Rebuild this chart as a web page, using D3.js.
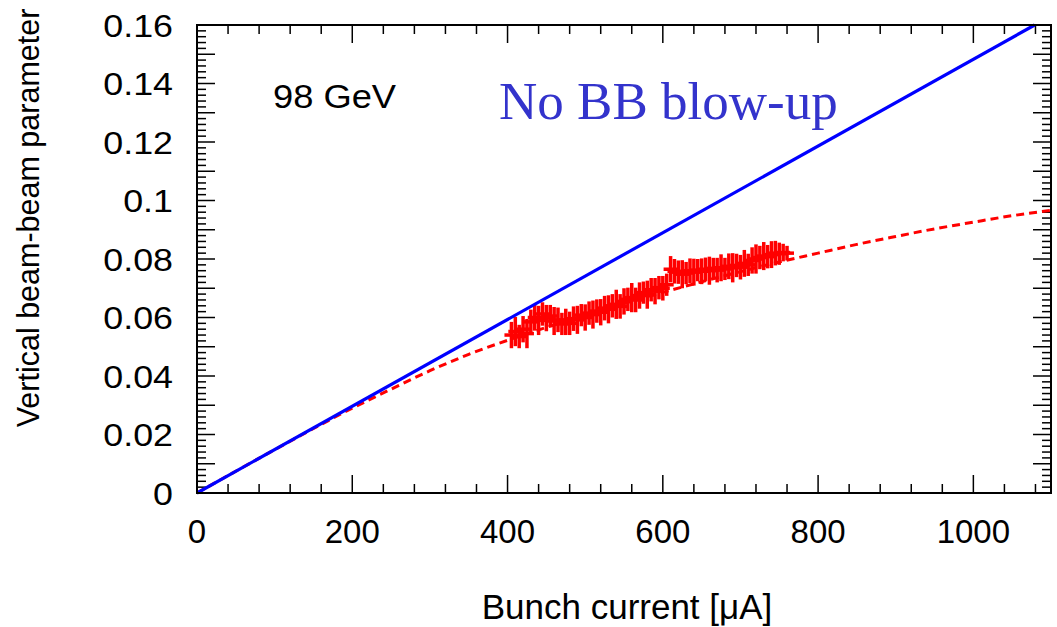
<!DOCTYPE html>
<html><head><meta charset="utf-8">
<script src="https://cdn.jsdelivr.net/npm/d3@7"></script>
<style>body{margin:0;background:#fff}svg{display:block}</style>
</head><body><svg id="c" width="1057" height="627" font-family="'Liberation Sans',Arial,sans-serif"></svg>
<script>
// ---- data ----
const xTickLabels = [0, 200, 400, 600, 800, 1000];
const yTickLabels = [0, 0.02, 0.04, 0.06, 0.08, 0.1, 0.12, 0.14, 0.16];
const noBlowUpLine = [[0, 0], [1079, 0.16]];
const fitCurve = [[0,0],[100,0.0148],[200,0.0290],[250,0.0355],[300,0.0418],[350,0.0474],[400,0.0522],[450,0.0566],[500,0.0608],[550,0.0648],[600,0.0686],[650,0.0722],[700,0.0757],[750,0.0790],[800,0.0820],[850,0.0850],[900,0.0877],[950,0.0903],[1000,0.0926],[1050,0.0948],[1100,0.0966]];
const current = [405,410,415,420,425,430,435,440,445,450,455,460,465,470,475,480,485,490,495,500,505,510,515,520,525,530,535,540,545,550,555,560,565,570,575,580,585,590,595,600,605,610,615,620,625,630,635,640,645,650,655,660,665,670,675,680,685,690,695,700,705,710,715,720,725,730,735,740,745,750,755,760];
const xi = [0.0540,0.0552,0.0535,0.0560,0.0545,0.0585,0.0600,0.0590,0.0612,0.0598,0.0605,0.0588,0.0592,0.0578,0.0585,0.0580,0.0596,0.0592,0.0608,0.0600,0.0615,0.0610,0.0622,0.0618,0.0632,0.0628,0.0640,0.0645,0.0638,0.0655,0.0662,0.0668,0.0660,0.0675,0.0685,0.0678,0.0695,0.0690,0.0702,0.0700,0.0712,0.0765,0.0758,0.0755,0.0748,0.0752,0.0760,0.0755,0.0762,0.0758,0.0765,0.0760,0.0768,0.0762,0.0770,0.0766,0.0775,0.0770,0.0778,0.0772,0.0785,0.0780,0.0795,0.0800,0.0805,0.0810,0.0808,0.0815,0.0820,0.0818,0.0822,0.0820];
const xiErr = [0.0045,0.005,0.004,0.0045,0.005,0.0042,0.0045,0.005,0.004,0.0045,0.0038,0.0048,0.0042,0.0038,0.0045,0.004,0.0042,0.0048,0.0038,0.0045,0.004,0.0048,0.004,0.0045,0.0042,0.0048,0.004,0.005,0.0042,0.0045,0.004,0.005,0.0042,0.0045,0.0038,0.0048,0.004,0.0045,0.004,0.0042,0.0038,0.0045,0.0042,0.004,0.0048,0.0038,0.0042,0.0046,0.0038,0.0044,0.004,0.0048,0.0036,0.0042,0.0046,0.0038,0.0044,0.005,0.004,0.0042,0.0046,0.0038,0.0045,0.005,0.004,0.0048,0.004,0.0046,0.0042,0.0038,0.003,0.0025];
const currentErr = 9;

// ---- layout ----
const svg = d3.select("#c");
const L = 197, R = 1051, T = 25, B = 493;
const x = d3.scaleLinear().domain([0, 1100]).range([L, R]);
const y = d3.scaleLinear().domain([0, 0.16]).range([B, T]);

// ticks
const xMinor = d3.range(0, 1101, 40);
const xMajor = xMinor.filter(v => v % 200 === 0);
const yAll = d3.range(0, 161, 2).map(v => v / 1000);
const g = svg.append("g").attr("stroke", "#000").attr("stroke-width", 1.5);
xMinor.forEach(v => {
  const len = xMajor.includes(v) ? 18 : 9;
  g.append("line").attr("x1", x(v)).attr("x2", x(v)).attr("y1", B).attr("y2", B - len);
  g.append("line").attr("x1", x(v)).attr("x2", x(v)).attr("y1", T).attr("y2", T + len);
});
yAll.forEach((v, i) => {
  const len = i % 5 === 0 ? 18 : 9;
  g.append("line").attr("x1", L).attr("x2", L + len).attr("y1", y(v)).attr("y2", y(v));
  g.append("line").attr("x1", R).attr("x2", R - len).attr("y1", y(v)).attr("y2", y(v));
});

// labels
svg.append("g").selectAll("text").data(xTickLabels).join("text")
  .attr("x", d => x(d)).attr("y", 543).attr("text-anchor", "middle")
  .attr("font-size", 33).text(d => d);
svg.append("g").selectAll("text").data(yTickLabels).join("text")
  .attr("transform", d => `translate(173,${y(d)}) scale(1.12,1)`)
  .attr("dy", "0.36em").attr("text-anchor", "end")
  .attr("font-size", 32).text(d => d);

svg.append("text").attr("x", 627).attr("y", 619).attr("text-anchor", "middle")
  .attr("font-size", 35).text("Bunch current [\u03BCA]");
svg.append("text").attr("transform", "translate(39,218) rotate(-90)").attr("text-anchor", "middle")
  .attr("font-size", 30.5).text("Vertical beam-beam parameter");

// curves
const line = d3.line().x(d => x(d[0])).y(d => y(d[1])).curve(d3.curveMonotoneX);
svg.append("path").datum(fitCurve).attr("d", line).attr("fill", "none")
  .attr("stroke", "#ff0000").attr("stroke-width", 3).attr("stroke-dasharray", "8,5");

// data crosses
const pts = current.map((c, i) => ({c, v: xi[i], e: xiErr[i]}));
const dg = svg.append("g").attr("stroke", "#ff0000").attr("stroke-width", 3.5);
dg.selectAll(".v").data(pts).join("line").attr("class", "v")
  .attr("x1", d => x(d.c)).attr("x2", d => x(d.c)).attr("y1", d => y(d.v - d.e)).attr("y2", d => y(d.v + d.e));
dg.selectAll(".h").data(pts).join("line").attr("class", "h")
  .attr("x1", d => x(d.c - currentErr)).attr("x2", d => x(d.c + currentErr)).attr("y1", d => y(d.v)).attr("y2", d => y(d.v));

svg.append("path").datum(noBlowUpLine).attr("d", d3.line().x(d => x(d[0])).y(d => y(d[1])))
  .attr("fill", "none").attr("stroke", "#0000ff").attr("stroke-width", 3.2);

// frame
svg.append("rect").attr("x", L).attr("y", T).attr("width", R - L).attr("height", B - T)
  .attr("fill", "none").attr("stroke", "#000").attr("stroke-width", 2);

// annotations
svg.append("text").attr("x", 273).attr("y", 108).attr("font-size", 33).attr("transform-origin", "273 108")
  .attr("transform", "scale(1.1,1)").text("98 GeV");
svg.append("text").attr("x", 499).attr("y", 119)
  .style("font-family", "'Liberation Serif','Times New Roman',serif").style("font-size", "53px")
  .attr("fill", "#3333cc").text("No BB blow-up");
</script></body></html>
